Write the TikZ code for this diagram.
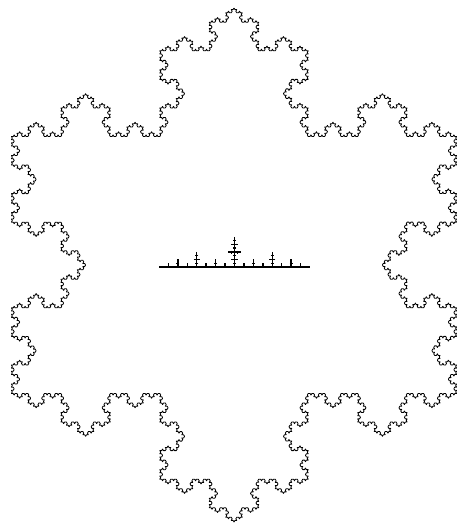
\documentclass[tikz,border=0pt]{standalone}
\usetikzlibrary{decorations.fractals}

% spike line: start x, start y, vector x, vector y, level
\newcommand\spikeseg[5]{%
  \ifnum#5=0
    \draw[spiky] (#1,#2) -- ++(#3,#4);
  \else
    \begingroup
    \pgfmathsetmacro\hx{#1+(#3)/2}\pgfmathsetmacro\hy{#2+(#4)/2}%
    \pgfmathsetmacro\vx{(#3)/2}\pgfmathsetmacro\vy{(#4)/2}%
    \pgfmathsetmacro\nx{-0.2*(#4)}\pgfmathsetmacro\ny{0.2*(#3)}%
    \pgfmathsetmacro\tx{\hx+\nx}\pgfmathsetmacro\ty{\hy+\ny}%
    \pgfmathsetmacro\mx{0.2*(#4)}\pgfmathsetmacro\my{-0.2*(#3)}%
    \pgfmathtruncatemacro\lv{#5-1}%
    \edef\next{%
      \noexpand\spikeseg{#1}{#2}{\vx}{\vy}{\lv}%
      \noexpand\spikeseg{\hx}{\hy}{\nx}{\ny}{\lv}%
      \noexpand\spikeseg{\tx}{\ty}{\mx}{\my}{\lv}%
      \noexpand\spikeseg{\hx}{\hy}{\vx}{\vy}{\lv}}%
    \next
    \endgroup
  \fi}

\begin{document}
\begin{tikzpicture}[
    x=1pt, y=1pt,
    flake/.style={draw=black, line width=0.8pt, line join=round, decoration=Koch snowflake},
    spiky/.style={draw=black, line width=1.4pt}
]
\useasboundingbox (0,0) rectangle (458,528);
\clip (0,0) rectangle (458,528);

% snowflake
\coordinate (top) at (234,520);
\coordinate (right) at (456.6,134.5);
\coordinate (left) at (11.4,134.5);
\path[flake] decorate{decorate{decorate{decorate{decorate{(top) -- (right) -- (left) -- cycle}}}}};

% spiky line in the middle, from (159,261) to (310,261)
\spikeseg{159}{261}{151}{0}{4}

\end{tikzpicture}
\end{document}
